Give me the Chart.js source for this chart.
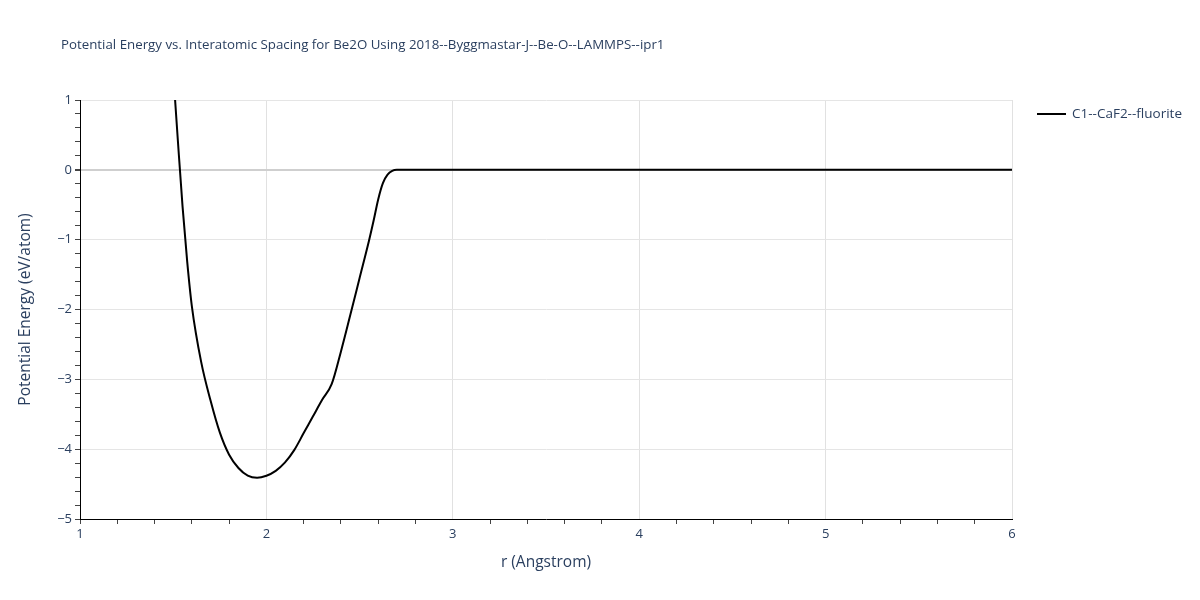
<!DOCTYPE html>
<html>
<head>
<meta charset="utf-8">
<script src="https://cdn.jsdelivr.net/npm/chart.js@4/dist/chart.umd.min.js"></script>
<style>
  html, body { margin: 0; padding: 0; background: #fff; }
  #wrap { width: 1200px; height: 600px; }
</style>
</head>
<body>
<div id="wrap"><canvas id="pe" width="1200" height="600"></canvas></div>
<script>
const chartTitle = 'Potential Energy vs. Interatomic Spacing for Be2O Using 2018--Byggmastar-J--Be-O--LAMMPS--ipr1';
const seriesName = 'C1--CaF2--fluorite';

// r (Angstrom) and energy (eV/atom)
const rValues = [1.50, 1.525, 1.55, 1.575, 1.60, 1.65, 1.70, 1.75, 1.80, 1.85, 1.90, 1.95,
  2.00, 2.05, 2.10, 2.15, 2.20, 2.25, 2.30, 2.35, 2.40, 2.45, 2.50, 2.55, 2.575, 2.60, 2.625,
  2.65, 2.675, 2.70, 2.80, 3.00, 3.50, 4.00, 4.50, 5.00, 5.50, 6.00];
const energyValues = [1.40, 0.42, -0.52, -1.31, -1.95, -2.75, -3.30, -3.76, -4.08, -4.27, -4.38, -4.41,
  -4.38, -4.31, -4.19, -4.01, -3.77, -3.53, -3.29, -3.07, -2.60, -2.08, -1.55, -1.02, -0.73, -0.42, -0.19,
  -0.07, -0.015, 0, 0, 0, 0, 0, 0, 0, 0, 0];

const xTicks = [1, 2, 3, 4, 5, 6];
const yTicks = [-5, -4, -3, -2, -1, 0, 1];

const fontFam = '"Open Sans", verdana, arial, sans-serif';
const textColor = '#2a3f5f';

function isMajor(v) { return Math.abs(v - Math.round(v)) < 1e-6; }

// titulo + leyenda dibujados a mano para ponerlos donde van
const overlay = {
  id: 'overlay',
  afterDraw(chart) {
    const ctx = chart.ctx;
    ctx.save();
    ctx.fillStyle = textColor;
    ctx.font = '13.3px ' + fontFam;
    ctx.textBaseline = 'middle';
    ctx.textAlign = 'left';
    ctx.fillText(chartTitle, 61, 45);

    ctx.strokeStyle = '#000';
    ctx.lineWidth = 2;
    ctx.beginPath();
    ctx.moveTo(1037, 114);
    ctx.lineTo(1066, 114);
    ctx.stroke();
    ctx.font = '13.5px ' + fontFam;
    ctx.fillText(chart.data.datasets[0].label, 1072, 114);
    ctx.restore();
  }
};

new Chart(document.getElementById('pe'), {
  type: 'line',
  data: {
    datasets: [{
      label: seriesName,
      data: rValues.map((r, i) => ({ x: r, y: energyValues[i] })),
      borderColor: '#000',
      backgroundColor: '#000',
      borderWidth: 2,
      pointRadius: 0,
      cubicInterpolationMode: 'monotone',
      fill: false
    }]
  },
  options: {
    responsive: false,
    animation: false,
    devicePixelRatio: 1,
    layout: { padding: { top: 100, right: 188, left: 0, bottom: 0 } },
    plugins: {
      legend: { display: false },
      title: { display: false },
      tooltip: { enabled: false }
    },
    scales: {
      x: {
        type: 'linear',
        min: xTicks[0],
        max: xTicks[xTicks.length - 1],
        afterFit(scale) { scale.height = 81; },
        afterBuildTicks(scale) {
          const t = [];
          for (let v = 1; v <= 6.0001; v += 0.2) t.push({ value: Math.round(v * 10) / 10 });
          scale.ticks = t;
        },
        ticks: {
          autoSkip: false,
          maxRotation: 0,
          padding: 2,
          color: textColor,
          font: { family: fontFam, size: 13 },
          callback: v => isMajor(v) && xTicks.includes(Math.round(v)) ? String(Math.round(v)) : ''
        },
        grid: {
          color: ctx => isMajor(ctx.tick.value) ? '#e1e1e1' : 'rgba(0,0,0,0)',
          tickColor: ctx => isMajor(ctx.tick.value) && ctx.tick.value !== 1 ? 'rgba(0,0,0,0)' : '#444',
          tickLength: 5,
          lineWidth: 1
        },
        border: { display: true, color: '#000', width: 1 },
        title: {
          display: true,
          text: 'r (Angstrom)',
          color: textColor,
          font: { family: fontFam, size: 15.5 },
          padding: { top: 0, bottom: 28 }
        }
      },
      y: {
        type: 'linear',
        min: yTicks[0],
        max: yTicks[yTicks.length - 1],
        afterFit(scale) { scale.width = 80; },
        afterBuildTicks(scale) {
          const t = [];
          for (let k = -25; k <= 5; k++) t.push({ value: Math.round(k * 2) / 10 });
          scale.ticks = t;
        },
        ticks: {
          autoSkip: false,
          padding: 3,
          color: textColor,
          font: { family: fontFam, size: 13 },
          callback: v => isMajor(v) ? String(Math.round(v)).replace('-', '\u2212') : ''
        },
        grid: {
          color: ctx => {
            if (!isMajor(ctx.tick.value)) return 'rgba(0,0,0,0)';
            return Math.round(ctx.tick.value) === 0 ? '#cfcfcf' : '#e5e5e5';
          },
          lineWidth: ctx => Math.round(ctx.tick.value * 10) === 0 ? 2 : 1,
          tickColor: '#444',
          tickLength: 5
        },
        border: { display: true, color: '#000', width: 1 },
        title: {
          display: true,
          text: 'Potential Energy (eV/atom)',
          color: textColor,
          font: { family: fontFam, size: 15.5 },
          padding: { top: 16, bottom: 0 }
        }
      }
    }
  },
  plugins: [overlay]
});
</script>
</body>
</html>
